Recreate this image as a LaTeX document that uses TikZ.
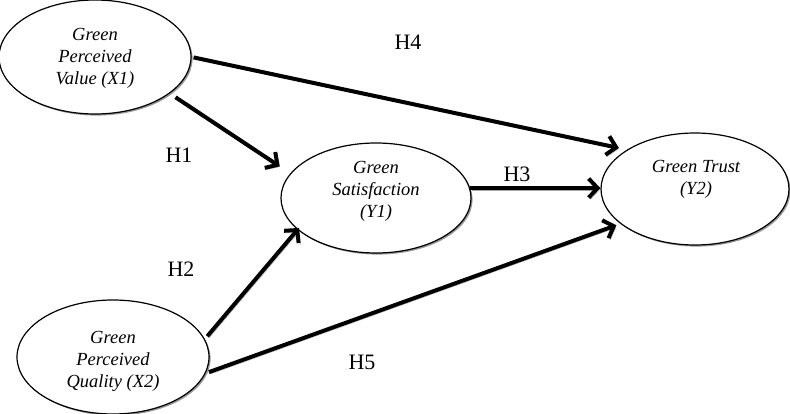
\documentclass[tikz,border=0pt]{standalone}
\usepackage{fontspec}
\setmainfont{Liberation Serif}
\usetikzlibrary{arrows.meta,shapes.geometric,shadows}
\begin{document}
\begin{tikzpicture}[x=1pt,y=-1pt,
  var/.style={ellipse, draw, line width=1.2pt, fill=white, inner sep=0pt,
    drop shadow={shadow xshift=1.6pt, shadow yshift=-1.6pt, opacity=0.4, fill=black}},
  vtext/.style={font=\fontsize{18.5}{22}\selectfont\itshape, align=center, inner sep=0pt},
  hlab/.style={font=\fontsize{22}{26}\selectfont, inner sep=0pt},
  conn/.style={line width=4pt, -{Straight Barb[length=9pt,width=19pt]},
    preaction={draw=black!35, transform canvas={shift={(1.8pt,-1.8pt)}}}}]
\useasboundingbox (0,0) rectangle (790,414);
% variables
\node[var, minimum width=192pt, minimum height=114pt] (x1) at (95,57) {};
\node[var, minimum width=190pt, minimum height=110pt] (y1) at (376,198) {};
\node[var, minimum width=188pt, minimum height=112pt] (y2) at (695,189) {};
\node[var, minimum width=192pt, minimum height=114pt] (x2) at (113,357) {};
\node[vtext] (x1t) at (95,58.5) {Green\\Perceived\\Value (X1)};
\node[vtext] (y1t) at (376,191.5) {Green\\Satisfaction\\(Y1)};
\node[vtext] (y2t) at (696,179) {Green Trust\\(Y2)};
\node[vtext] (x2t) at (113,361) {Green\\Perceived\\Quality (X2)};
% hypothesis labels
\node[hlab] (h4) at (408,42) {H4};
\node[hlab] (h1) at (179,155.5) {H1};
\node[hlab] (h3) at (517,174.5) {H3};
\node[hlab] (h2) at (181,269) {H2};
\node[hlab] (h5) at (362,362) {H5};
% paths
\draw[conn, shorten <=2pt, shorten >=8.2pt] (x1.0) -- (y2.150);
\draw[conn, shorten <=6.9pt, shorten >=12.6pt] (x1.334) -- (y1.164);
\draw[conn] (y1.6) -- (y1.6 -| y2.west);
\draw[conn, shorten <=3.8pt, shorten >=-2.3pt] (x2.11) -- (y1.202);
\draw[conn, shorten <=3.5pt, shorten >=4.25pt] (x2.350) -- (y2.205);
\end{tikzpicture}
\end{document}
